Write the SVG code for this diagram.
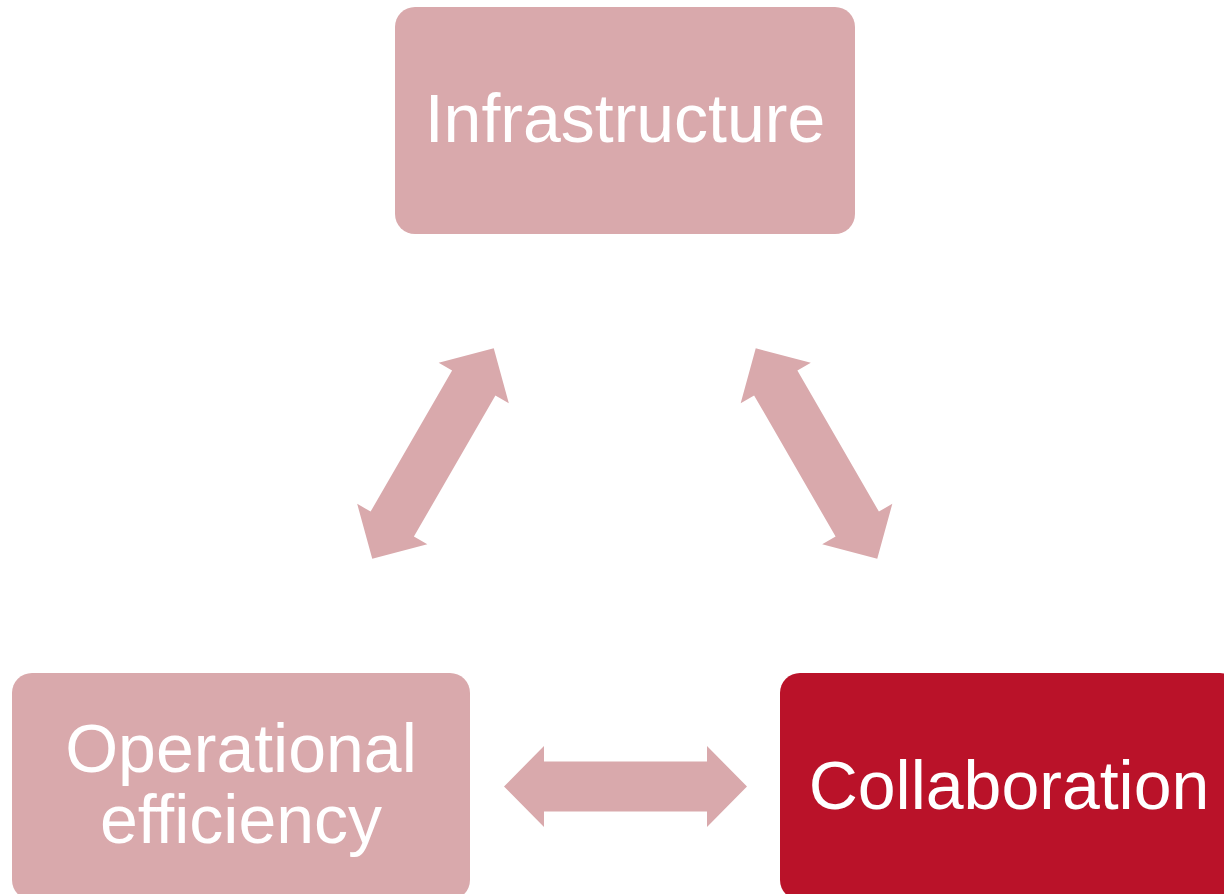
<svg xmlns="http://www.w3.org/2000/svg" width="1224" height="894" viewBox="0 0 1224 894">
  <style>
    .light { fill: #D9A9AC; }
    .dark { fill: #BA1229; }
    .label { font-family: "Liberation Sans", Arial, sans-serif; font-size: 68px; fill: #FFFFFF; text-anchor: middle; }
    .arrow { fill: #D9A9AC; }
  </style>
  <defs>
    <path id="dblArrow" d="M -121.5 0 L -81.5 -40.5 L -81.5 -25 L 81.5 -25 L 81.5 -40.5 L 121.5 0 L 81.5 40.5 L 81.5 25 L -81.5 25 L -81.5 40.5 Z"/>
  </defs>
  <rect width="1224" height="894" fill="#FFFFFF"/>
  <g id="connectors">
    <use href="#dblArrow" class="arrow" transform="translate(433 453.5) rotate(-60)"/>
    <use href="#dblArrow" class="arrow" transform="translate(816.5 453.5) rotate(60)"/>
    <use href="#dblArrow" class="arrow" transform="translate(625.5 786.5)"/>
  </g>
  <g id="infrastructure">
    <rect class="light" x="395" y="7" width="460" height="227" rx="20" ry="20"/>
    <text class="label" x="625" y="142">Infrastructure</text>
  </g>
  <g id="operational-efficiency">
    <rect class="light" x="12" y="673" width="458" height="227" rx="20" ry="20"/>
    <text class="label" x="241" y="772">Operational</text>
    <text class="label" x="241" y="843">efficiency</text>
  </g>
  <g id="collaboration">
    <rect class="dark" x="780" y="673" width="460" height="227" rx="20" ry="20"/>
    <text class="label" x="1009" y="809">Collaboration</text>
  </g>
</svg>
